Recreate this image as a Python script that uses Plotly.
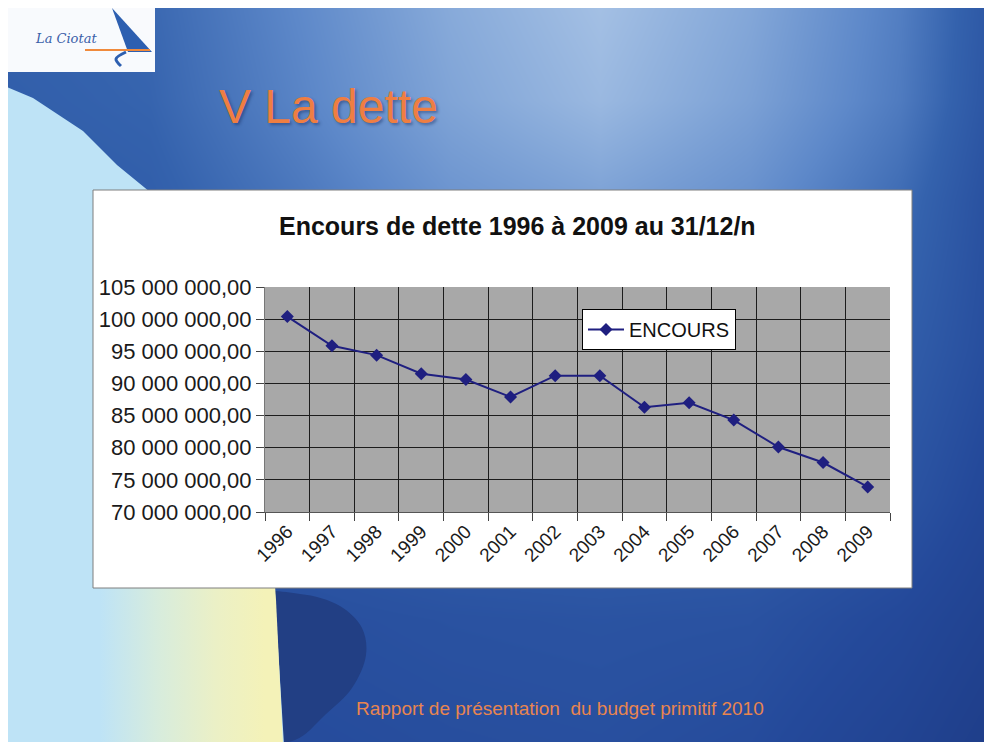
import plotly.graph_objects as go

# ---------------- data ----------------
years = ["1996", "1997", "1998", "1999", "2000", "2001", "2002",
         "2003", "2004", "2005", "2006", "2007", "2008", "2009"]
encours = [100.4e6, 95.85e6, 94.4e6, 91.5e6, 90.6e6, 87.9e6, 91.2e6,
           91.2e6, 86.3e6, 87.0e6, 84.3e6, 80.1e6, 77.7e6, 73.9e6]
series_name = "ENCOURS"
chart_title = "Encours de dette 1996 à 2009 au 31/12/n"
slide_title = "V La dette"
footer_text = "Rapport de présentation  du budget primitif 2010"
y_min, y_max, y_step = 70e6, 105e6, 5e6

# ---------------- page geometry (reference pixel frame) ----------------
PAGE_W, PAGE_H = 992, 742
OFF = 8                      # html body margin
W, H = PAGE_W - OFF, PAGE_H - OFF
PL, PR, PT, PB = 265, 890, 287, 512   # plot area in page pixels


def fx(px):
    return (px - OFF) / W


def fy(py):
    return (PAGE_H - py) / H


# slide background lightness grid (decoration)
bg_x = [0, 150, 300, 450, 600, 750, 900, 992]
bg_y = [0, 100, 200, 350, 500, 620, 742]
bg_z = [
    [0.45, 0.48, 0.66, 0.86, 1.00, 0.84, 0.60, 0.36],
    [0.42, 0.46, 0.63, 0.82, 0.95, 0.80, 0.58, 0.34],
    [0.38, 0.42, 0.56, 0.72, 0.80, 0.70, 0.50, 0.30],
    [0.34, 0.36, 0.45, 0.55, 0.60, 0.55, 0.42, 0.28],
    [0.30, 0.30, 0.36, 0.42, 0.44, 0.42, 0.34, 0.22],
    [0.27, 0.27, 0.30, 0.32, 0.33, 0.32, 0.24, 0.16],
    [0.25, 0.25, 0.27, 0.29, 0.30, 0.27, 0.18, 0.10],
]
bg_scale = [[0.0, "#1b367e"], [0.25, "#24499a"], [0.45, "#3462ad"],
            [0.65, "#5d88c9"], [0.85, "#86a9d9"], [1.0, "#a4c0e4"]]

fig = go.Figure()

# background (subplot x/y, in page pixels)
fig.add_trace(go.Heatmap(x=bg_x, y=bg_y, z=bg_z, zmin=0, zmax=1, zsmooth="best",
                         colorscale=bg_scale, showscale=False, hoverinfo="skip",
                         xaxis="x", yaxis="y"))


def deco(xs, ys, fill, line=None, lw=0, shape="linear"):
    fig.add_trace(go.Scatter(x=xs, y=ys, mode="lines", fill="toself", fillcolor=fill,
                             line=dict(color=line or "rgba(0,0,0,0)", width=lw, shape=shape),
                             hoverinfo="skip", showlegend=False, xaxis="x", yaxis="y"))


# dark blob under the chart
deco([250, 300, 340, 362, 366, 352, 325, 295, 250, 250],
     [598, 594, 606, 628, 655, 688, 715, 740, 740, 598], "#223f84", shape="spline")
# light blue arc
arc_x = [0, 33, 83, 117, 150, 190, 222, 248, 265, 275, 280, 284, 0, 0]
arc_y = [84, 98, 131, 165, 192, 262, 350, 450, 540, 600, 680, 745, 745, 84]
deco(arc_x, arc_y, "#bee3f6")
# yellow gradient in lower-left
fig.add_trace(go.Scatter(x=[95, 273, 276, 280, 283, 95, 95], y=[556, 556, 600, 680, 745, 745, 556],
                         mode="lines", fill="toself", line=dict(width=0, color="rgba(0,0,0,0)"),
                         fillgradient=dict(type="horizontal", start=100, stop=265,
                                           colorscale=[[0, "#bee3f6"], [0.35, "#d7ecdd"],
                                                       [0.7, "#ebf0c6"], [1, "#f4f2b8"]]),
                         hoverinfo="skip", showlegend=False, xaxis="x", yaxis="y"))
# logo
deco([8, 155, 155, 8, 8], [6, 6, 72, 72, 6], "rgba(255,255,255,0.97)")
deco([112, 152, 128, 112], [8, 52, 52, 8], "#2d5fb0")
fig.add_trace(go.Scatter(x=[126, 116, 121], y=[52, 59, 66], mode="lines",
                         line=dict(color="#2d5fb0", width=3, shape="spline"),
                         hoverinfo="skip", showlegend=False, xaxis="x", yaxis="y"))
fig.add_trace(go.Scatter(x=[85, 150], y=[50, 50], mode="lines",
                         line=dict(color="#f08a3c", width=2),
                         hoverinfo="skip", showlegend=False, xaxis="x", yaxis="y"))
# chart white box
deco([93, 912, 912, 93, 93], [190, 190, 588, 588, 190], "#ffffff", line="#7f7f7f", lw=1)

# ---------------- the chart ----------------
fig.add_trace(go.Scatter(
    x=years, y=encours, name=series_name, mode="lines+markers",
    line=dict(color="#1f1f80", width=2),
    marker=dict(symbol="diamond", size=10, color="#1f1f80"),
    xaxis="x2", yaxis="y2",
))

annotations = [
    dict(text=chart_title, x=517, y=226, xref="x", yref="y",
         showarrow=False, xanchor="center", yanchor="middle",
         font=dict(family="Liberation Sans, Arial", size=25, color="#111111", weight="bold")),
    dict(text=slide_title, x=217, y=106, xref="x", yref="y",
         showarrow=False, xanchor="left", yanchor="middle",
         font=dict(family="Liberation Sans, Arial", size=48, color="#ef7e42",
                   shadow="2px 2px 3px rgba(20,40,90,0.45)")),
    dict(text=footer_text, x=560, y=708, xref="x", yref="y",
         showarrow=False, xanchor="center", yanchor="middle",
         font=dict(family="Liberation Sans, Arial", size=19, color="#e8854f")),
    dict(text="<i>La Ciotat</i>", x=66, y=38, xref="x", yref="y",
         showarrow=False, xanchor="center", yanchor="middle",
         font=dict(family="DejaVu Serif", size=13, color="#3a5ea8")),
]

fig.update_layout(
    template="none",
    width=W, height=H, autosize=False,
    margin=dict(l=0, r=0, t=0, b=0, pad=0, autoexpand=False),
    paper_bgcolor="#3d69b2",
    plot_bgcolor="#a8a8a8",
    separators=", ",
    showlegend=True,
    legend=dict(x=fx(582), y=fy(309), xanchor="left", yanchor="top",
                bgcolor="#ffffff", bordercolor="#000000", borderwidth=1,
                font=dict(family="Liberation Sans, Arial", size=20, color="#111111"),
                itemwidth=36, itemclick=False),
    annotations=annotations,
    font=dict(family="Liberation Sans, Arial"),
    xaxis=dict(domain=[0, 1], range=[OFF, PAGE_W], visible=False, fixedrange=True,
               automargin=False),
    yaxis=dict(domain=[0, 1], range=[PAGE_H, OFF], visible=False, fixedrange=True,
               automargin=False),
    xaxis2=dict(
        domain=[fx(PL), fx(PR)], anchor="y2", automargin=False,
        type="category", range=[-0.5, len(years) - 0.5],
        tickson="boundaries", ticks="outside", ticklen=8, tickcolor="#444444",
        showgrid=True, gridcolor="#1c1c1c", gridwidth=1.4,
        showline=True, linecolor="#555555", linewidth=1,
        tickangle=-45, tickfont=dict(size=19, color="#1a1a1a"),
        zeroline=False,
    ),
    yaxis2=dict(
        domain=[fy(PB), fy(PT)], anchor="x2", automargin=False,
        range=[y_min, y_max], dtick=y_step, tick0=y_min, tickformat=",.2f",
        ticks="outside", ticklen=8, tickcolor="#444444",
        showgrid=True, gridcolor="#1c1c1c", gridwidth=1.4,
        showline=True, linecolor="#777777", linewidth=1,
        tickfont=dict(size=22, color="#1a1a1a"), zeroline=False,
    ),
)

fig.write_html("out.html")
